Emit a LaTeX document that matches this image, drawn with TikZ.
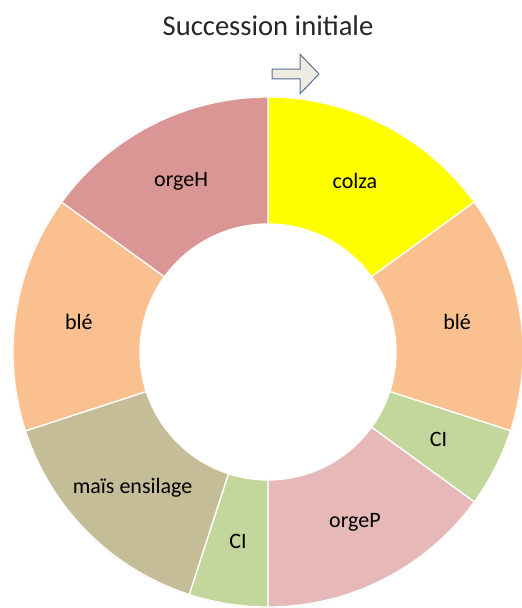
\documentclass[tikz,border=0pt]{standalone}
\usepackage{fontspec}
\setmainfont{Carlito}
\definecolor{cble}{HTML}{FAC090}
\definecolor{cci}{HTML}{C3D69B}
\definecolor{corgeP}{HTML}{E6B9B8}
\definecolor{cmais}{HTML}{C4BD97}
\definecolor{corgeH}{HTML}{D99694}
\definecolor{ccolza}{HTML}{FFFF00}
\definecolor{arrstroke}{HTML}{566E93}
\definecolor{arrfill}{HTML}{EEECE1}
\begin{document}
\begin{tikzpicture}[x=1pt,y=1pt,
  lbl/.style={font=\fontsize{22}{26}\selectfont, text=black, inner sep=0pt},
  seg/.style={draw=white, line width=1.3pt, line join=round}]
\useasboundingbox (0,0) rectangle (522,608);
\def\Rout{255}
\def\Rin{128}
\def\Rl{191.5}
\begin{scope}[shift={(268,256)}]
  \coordinate (c) at (0,0);
  \fill[black!15] (c) circle[radius=\Rout+0.6];
  \fill[white] (c) circle[radius=\Rin];
  \foreach \a/\b/\col in {36/90/ccolza, -18/36/cble, -36/-18/cci, -90/-36/corgeP, -108/-90/cci, -162/-108/cmais, -216/-162/cble, -270/-216/corgeH}{
    \filldraw[seg, fill=\col] (\a:\Rin) -- (\a:\Rout) arc[start angle=\a, end angle=\b, radius=\Rout] -- (\b:\Rin) arc[start angle=\b, end angle=\a, radius=\Rin] -- cycle;
  }
  \node[lbl] (colza) at (63:\Rl) {colza};
  \node[lbl] (ble1) at (9:\Rl) {blé};
  \node[lbl] (ci1) at (-27:\Rl) {CI};
  \node[lbl] (orgeP) at (-63:\Rl) {orgeP};
  \node[lbl] (ci2) at (-99:\Rl) {CI};
  \node[lbl] (mais) at (-135:\Rl) {maïs ensilage};
  \node[lbl] (ble2) at (-189:\Rl) {blé};
  \node[lbl] (orgeH) at (-243:\Rl) {orgeH};
\end{scope}
\node[font=\fontsize{28.6}{34}\selectfont, text=black!85, inner sep=0pt, anchor=base] (title) at (268,572) {Succession initiale};
\draw[draw=arrstroke, fill=arrfill, line width=1pt, line join=miter]
  (272,538.8) -- (300,538.8) -- (300,553.8) -- (319,534) -- (300,514.2) -- (300,529.2) -- (272,529.2) -- cycle;
\end{tikzpicture}
\end{document}
